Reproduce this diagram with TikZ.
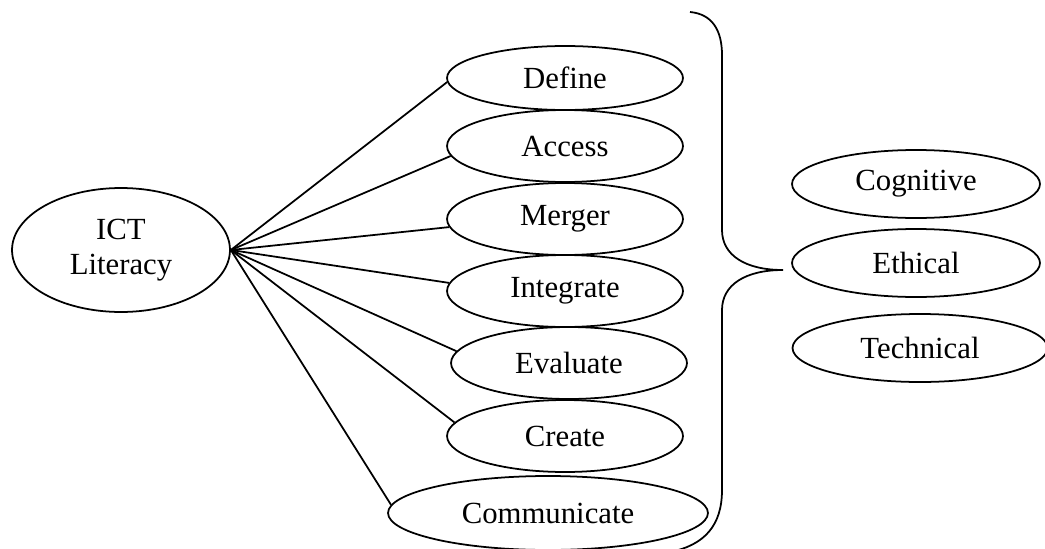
\documentclass[tikz,border=0pt]{standalone}
\usepackage{fontspec}
\setmainfont{Liberation Serif}
\usetikzlibrary{shapes.geometric}
\tikzset{every path/.style={black, line width=1pt}, every node/.style={font=\fontsize{17.5}{20}\selectfont, inner sep=0pt},
  oval/.style={ellipse, draw, minimum width=4.72cm, minimum height=1.44cm}}

\begin{document}
\begin{tikzpicture}[x=0.02cm, y=-0.02cm]
  \useasboundingbox (0,0) rectangle (1045,548);
  \node[oval, minimum width=4.36cm, minimum height=2.48cm, align=center] (ict) at (121,250) {ICT\\Literacy};
  \node[oval, minimum height=1.28cm] (define) at (565,78) {Define};
  \node[oval] (access) at (565,146) {Access};
  \node[oval] (merger) at (565,219) {Merger};
  \node[oval] (integrate) at (565,291) {Integrate};
  \node[oval] (evaluate) at (569,363) {Evaluate};
  \node[oval] (create) at (565,436) {Create};
  \node[oval, minimum width=6.4cm, minimum height=1.48cm] (communicate) at (548,513) {Communicate};
  \draw (ict.east) -- (define.182);
  \draw (ict.east) -- (access.185);
  \draw (ict.east) -- (merger.184);
  \draw (ict.east) -- (integrate.176);
  \draw (ict.east) -- (evaluate.174);
  \draw (ict.east) -- (create.173);
  \draw (ict.east) -- (communicate.177);
  % the brace
  \draw (690,12) .. controls (712,14) and (722,30) .. (722,55) -- (722,230)
    .. controls (722,255) and (745,270) .. (783,270)
    .. controls (745,270) and (722,285) .. (722,310) -- (722,490)
    .. controls (722,525) and (705,545) .. (670,552);
  \node[oval, minimum width=4.96cm, minimum height=1.36cm] (cognitive) at (916,184) {Cognitive};
  \node[oval, minimum width=4.96cm, minimum height=1.36cm] (ethical) at (916,263) {Ethical};
  \node[oval, minimum width=5.1cm, minimum height=1.36cm] (technical) at (920,348) {Technical};
\end{tikzpicture}
\end{document}
